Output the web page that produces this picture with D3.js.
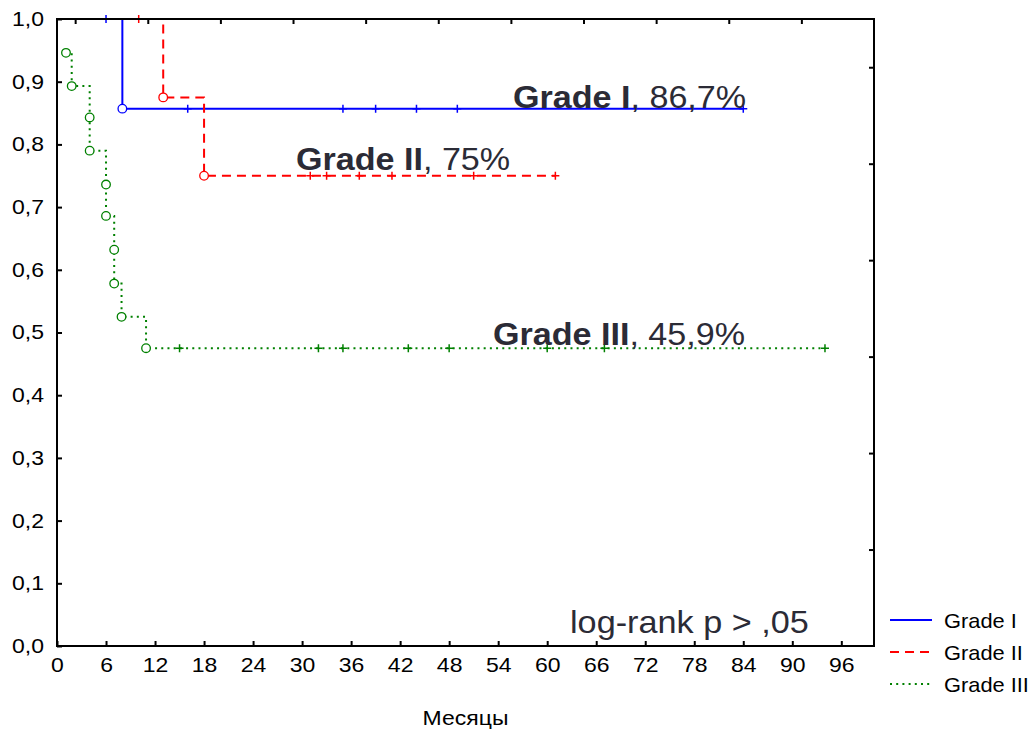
<!DOCTYPE html>
<html>
<head>
<meta charset="utf-8">
<script src="https://cdn.jsdelivr.net/npm/d3@7"></script>
<style>
  body { margin: 0; background: #fff; }
  svg { display: block; font-family: "Liberation Sans", Arial, sans-serif; }
</style>
</head>
<body>
<div id="chart"></div>
<script>
// survival data (months, cumulative proportion surviving, e = event, c = censored)
const gradeITimes = [6, 8, 16, 35, 39, 44, 49, 84];
const gradeISurv = [1.0, 0.857, 0.857, 0.857, 0.857, 0.857, 0.857, 0.857];
const gradeIStatus = ['c', 'e', 'c', 'c', 'c', 'c', 'c', 'c'];

const gradeIITimes = [10, 13, 18, 31, 33, 37, 41, 51, 61];
const gradeIISurv = [1.0, 0.875, 0.75, 0.75, 0.75, 0.75, 0.75, 0.75, 0.75];
const gradeIIStatus = ['c', 'e', 'e', 'c', 'c', 'c', 'c', 'c', 'c'];

const gradeIIITimes = [1.1, 1.8, 4, 4, 6, 6, 7, 7, 7.9, 10.9, 15, 32, 35, 43, 48, 60, 67, 94];
const gradeIIISurv = [0.946, 0.893, 0.843, 0.790, 0.736, 0.686, 0.632, 0.578, 0.525, 0.475,
  0.475, 0.475, 0.475, 0.475, 0.475, 0.475, 0.475, 0.475];
const gradeIIIStatus = ['e', 'e', 'e', 'e', 'e', 'e', 'e', 'e', 'e', 'e', 'c', 'c', 'c', 'c', 'c', 'c', 'c', 'c'];

const seriesNames = ['Grade I', 'Grade II', 'Grade III'];
const seriesPct = ['86,7%', '75%', '45,9%'];
const xTicks = d3.range(0, 97, 6);
const yTicks = d3.range(0, 1.01, 0.1);

const width = 1032, height = 731;
const margin = {left: 57, top: 19, right: 158, bottom: 85};
const x0 = margin.left, x1 = width - margin.right, y0 = margin.top, y1 = height - margin.bottom;

const colors = ['#0000ff', '#ff0000', '#008000'];
const dashes = [null, '9,6', '2,4.2'];
const textColor = '#2b2b36';

const svg = d3.select('#chart').append('svg')
  .attr('width', width)
  .attr('height', height);

const x = d3.scaleLinear().domain([0, 100]).range([x0, x1]);
const y = d3.scaleLinear().domain([0, 1]).range([y1, y0]);
// secondary scales used only for the inner ticks of the top and right frame
const xTop = d3.scaleLinear().domain([-0.25, 11]).range([x0, x1]);
const yRight = d3.scaleLinear().domain([0, 6.5]).range([y1, y0]);

const fmt = d => d3.format('.1f')(d).replace('.', ',');

// axes
const gx = svg.append('g').attr('transform', `translate(0,${y1})`)
  .call(d3.axisBottom(x).tickValues(xTicks).tickSize(-5).tickPadding(12).tickSizeOuter(0));
const gy = svg.append('g').attr('transform', `translate(${x0},0)`)
  .call(d3.axisLeft(y).tickValues(yTicks).tickFormat(fmt).tickSize(-5).tickPadding(13).tickSizeOuter(0));
const gt = svg.append('g').attr('transform', `translate(0,${y0})`)
  .call(d3.axisTop(xTop).tickValues(d3.range(0, 11)).tickSize(-5).tickFormat('').tickSizeOuter(0));
const gr = svg.append('g').attr('transform', `translate(${x1},0)`)
  .call(d3.axisRight(yRight).tickValues(d3.range(1, 7)).tickSize(-5).tickFormat('').tickSizeOuter(0));

[gx, gy, gt, gr].forEach(g => {
  g.select('.domain').remove();
  g.selectAll('.tick line').attr('stroke', '#000').attr('stroke-width', 2);
  g.selectAll('text').attr('fill', '#000').style('font-size', '20px')
    .style('font-family', '"Liberation Sans", Arial, sans-serif');
});
gx.selectAll('text').attr('transform', 'scale(1.15,1)');
gy.selectAll('text').each(function () {
  const t = d3.select(this);
  t.attr('transform', `translate(${t.attr('x')},0) scale(1.15,1)`).attr('x', 0);
});

svg.append('rect')
  .attr('x', x0).attr('y', y0)
  .attr('width', x1 - x0).attr('height', y1 - y0)
  .attr('fill', 'none').attr('stroke', '#000').attr('stroke-width', 2);

// curves
const line = d3.line().curve(d3.curveStepAfter).x(d => x(d.t)).y(d => y(d.s));
const series = [
  [gradeITimes, gradeISurv, gradeIStatus],
  [gradeIITimes, gradeIISurv, gradeIIStatus],
  [gradeIIITimes, gradeIIISurv, gradeIIIStatus]
].map(([ts, ss, st]) => ts.map((t, i) => ({t: t, s: ss[i], e: st[i]})));

series.forEach((pts, k) => {
  const g = svg.append('g');
  g.append('path')
    .attr('d', line(pts))
    .attr('fill', 'none')
    .attr('stroke', colors[k])
    .attr('stroke-width', 2)
    .attr('stroke-dasharray', dashes[k]);

  pts.filter(d => d.e === 'c').forEach(d => {
    g.append('path')
      .attr('d', `M${x(d.t) - 4},${y(d.s)}h8M${x(d.t)},${y(d.s) - 4}v8`)
      .attr('stroke', colors[k]).attr('stroke-width', 1.5);
  });
  g.selectAll('circle').data(pts.filter(d => d.e === 'e')).join('circle')
    .attr('cx', d => x(d.t)).attr('cy', d => y(d.s)).attr('r', 4.3)
    .attr('fill', '#fff').attr('stroke', colors[k]).attr('stroke-width', 1.3);
});

// redraw the frame top so the curves at 1,0 sit under it
svg.append('line').attr('x1', x0).attr('x2', x1).attr('y1', y0).attr('y2', y0)
  .attr('stroke', '#000').attr('stroke-width', 2);

// curve labels
const labelPos = [[513, 108], [296, 170], [493, 345]];
seriesNames.forEach((name, k) => {
  const t = svg.append('text')
    .attr('transform', `translate(${labelPos[k][0]},${labelPos[k][1]}) scale(1.1,1)`)
    .attr('fill', textColor).style('font-size', '31px');
  t.append('tspan').style('font-weight', 'bold').text(name);
  t.append('tspan').text(', ' + seriesPct[k]);
});

svg.append('text')
  .attr('transform', `translate(570,633) scale(1.07,1)`)
  .attr('fill', textColor).style('font-size', '32px')
  .text('log-rank p > ,05');

// x title
svg.append('text')
  .attr('transform', `translate(${(x0 + x1) / 2},725) scale(1.15,1)`)
  .attr('text-anchor', 'middle').attr('fill', '#000').style('font-size', '20px')
  .text('Месяцы');

// legend
const legend = svg.append('g').attr('transform', 'translate(890,620)');
seriesNames.forEach((name, k) => {
  const row = legend.append('g').attr('transform', `translate(0,${k * 32})`);
  row.append('line').attr('x1', 0).attr('x2', 42).attr('y1', 0).attr('y2', 0)
    .attr('stroke', colors[k]).attr('stroke-width', 2)
    .attr('stroke-dasharray', dashes[k]);
  row.append('text')
    .attr('transform', 'translate(54,8) scale(1.04,1)')
    .attr('fill', '#000').style('font-size', '21px')
    .text(name);
});
</script>
</body>
</html>
